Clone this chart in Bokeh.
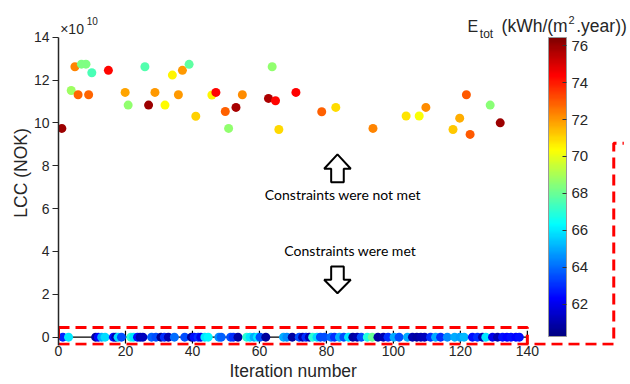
import numpy as np
from bokeh.plotting import figure
from bokeh.models import (LinearColorMapper, ColorBar, FixedTicker, Label, Range1d, ColumnDataSource, Title)
from bokeh.transform import linear_cmap
from bokeh.embed import file_html
from bokeh.resources import INLINE

# ---------------- data (LCC in units of 1e10 NOK) ----------------
top_iter = [1.0, 3.8, 4.9, 5.85, 6.85, 8.2, 9.0, 9.95, 14.9, 19.9,
            20.8, 25.8, 26.9, 28.8, 31.8, 34.0, 37.0, 35.8, 39.0, 41.0,
            45.8, 47.0, 49.8, 50.8, 53.0, 54.9, 62.7, 63.8, 64.8, 65.8,
            70.9, 78.6, 82.8, 93.9, 103.8, 107.7, 109.7, 117.8, 119.8, 121.8,
            122.9, 128.9, 131.9]
top_lcc = [9.74, 11.51, 12.62, 11.31, 12.74, 12.74, 11.31, 12.34, 12.45, 11.42,
           10.83, 12.62, 10.83, 11.42, 10.83, 12.23, 12.45, 11.31, 12.73, 10.31,
           11.30, 11.42, 10.53, 9.74, 10.72, 11.31, 11.14, 12.62, 11.03, 9.69,
           11.42, 10.52, 10.72, 9.74, 10.32, 10.32, 10.72, 9.69, 10.22, 11.31,
           9.46, 10.83, 10.0]
top_etot = [76.0, 68.8, 72.3, 72.8, 68.3, 68.3, 72.8, 67.5, 74.3, 71.8,
            68.6, 67.6, 76.0, 72.0, 70.4, 70.5, 72.0, 72.0, 67.8, 71.1,
            70.5, 74.3, 72.9, 68.6, 75.8, 72.2, 75.7, 68.6, 74.3, 71.0,
            74.4, 72.9, 70.9, 72.3, 70.8, 70.3, 72.2, 71.2, 71.7, 73.0,
            73.0, 68.5, 76.0]

bot_iter = [1.3, 3.0, 11.1, 11.9, 12.9, 13.9, 16.4, 17.1, 17.8, 18.8,
            21.6, 22.4, 23.6, 24.4, 25.2, 27.8, 29.1, 30.6, 31.6, 32.8,
            34.6, 37.7, 39.7, 40.5, 41.7, 42.5, 43.7, 44.7, 47.9, 48.6,
            51.4, 52.2, 53.6, 56.2, 57.2, 58.4, 59.4, 60.2, 61.9, 67.2,
            68.2, 69.8, 71.9, 72.9, 73.9, 74.9, 75.9, 77.2, 78.2, 79.4,
            81.4, 82.4, 83.9, 85.2, 86.6, 87.9, 89.2, 90.4, 92.2, 93.7,
            95.4, 97.0, 98.4, 100.2, 101.7, 104.2, 105.7, 107.0, 108.2, 109.3,
            111.1, 112.6, 114.1, 116.1, 118.3, 119.9, 121.1, 123.6, 125.1, 126.6,
            127.6, 129.6, 131.1, 132.6, 133.9, 135.1, 136.6, 137.6]
bot_etot = [62.8, 66.0, 60.8, 62.3, 65.0, 65.8, 62.5, 61.0, 65.8, 63.5,
            67.0, 66.0, 62.5, 61.0, 61.2, 63.8, 63.5, 60.6, 63.0, 61.0,
            64.0, 63.5, 60.7, 62.5, 63.0, 62.0, 66.0, 66.2, 64.5, 63.8,
            63.5, 63.0, 60.8, 67.0, 66.0, 65.0, 66.0, 63.5, 60.7, 65.0,
            64.5, 60.8, 63.5, 61.0, 63.0, 61.0, 67.0, 65.8, 63.5, 63.5,
            64.0, 63.0, 65.0, 63.5, 66.0, 60.8, 61.0, 63.5, 66.8, 68.0,
            60.8, 61.0, 63.0, 65.0, 63.5, 65.0, 61.0, 60.8, 61.0, 61.2,
            63.0, 65.0, 63.0, 64.5, 65.0, 64.8, 65.2, 62.5, 63.0, 61.0,
            66.0, 62.0, 61.0, 62.5, 62.3, 62.5, 62.3, 62.5]
bot_lcc = [0.0] * len(bot_iter)

x_ticks = [0, 20, 40, 60, 80, 100, 120, 140]
y_ticks = [0, 2, 4, 6, 8, 10, 12, 14]
cb_ticks = [62, 64, 66, 68, 70, 72, 74, 76]
E_LOW, E_HIGH = 60.24, 76.45

# ---------------- jet palette ----------------
t = np.linspace(0, 1, 256)
r = np.clip(1.5 - np.abs(4 * t - 3), 0, 1)
g = np.clip(1.5 - np.abs(4 * t - 2), 0, 1)
b = np.clip(1.5 - np.abs(4 * t - 1), 0, 1)
JET = ["#%02x%02x%02x" % (int(round(a * 255)), int(round(c * 255)), int(round(d * 255)))
       for a, c, d in zip(r, g, b)]

FONT = "Liberation Sans"
TXT = "#262626"

p = figure(width=630, height=384, output_backend="svg", toolbar_location=None,
           x_range=Range1d(0, 170.8), y_range=Range1d(-0.39, 15.71),
           min_border_left=58, min_border_right=0, min_border_top=0, min_border_bottom=39)
p.title.visible = False
p.outline_line_color = None
p.xgrid.visible = False
p.ygrid.visible = False
p.background_fill_color = "white"

# axes
xa = p.xaxis[0]
xa.ticker = FixedTicker(ticks=x_ticks)
xa.axis_line_color = None
xa.major_tick_line_color = None
xa.minor_tick_line_color = None
xa.major_tick_out = 0
xa.major_tick_in = 0
xa.major_label_standoff = 0
xa.major_label_text_font = FONT
xa.major_label_text_font_size = "14px"
xa.major_label_text_color = TXT

# x-axis title (placed under the 0-140 span, left part of the frame)
p.add_layout(Title(text="Iteration number", align="left", offset=171, standoff=0,
                   text_font=FONT, text_font_size="17.5px", text_font_style="normal",
                   text_color=TXT), "below")

ya = p.yaxis[0]
ya.ticker = FixedTicker(ticks=y_ticks)
ya.bounds = (-0.38, 14)
ya.axis_line_color = TXT
ya.axis_line_width = 1.5
ya.major_tick_line_color = TXT
ya.major_tick_line_width = 1.2
ya.major_tick_out = 6
ya.major_tick_in = 0
ya.minor_tick_line_color = None
ya.major_label_standoff = 3
ya.major_label_text_font = FONT
ya.major_label_text_font_size = "14px"
ya.major_label_text_color = TXT
ya.axis_label = "LCC (NOK)"
ya.axis_label_text_font = FONT
ya.axis_label_text_font_size = "17.5px"
ya.axis_label_text_font_style = "normal"
ya.axis_label_text_color = TXT
ya.axis_label_standoff = 0

# zero line with ticks
p.line(x=[x_ticks[0], x_ticks[-1]], y=[0, 0], line_color="black", line_width=1.2)
p.segment(x0=x_ticks, x1=x_ticks, y0=[-0.3] * len(x_ticks), y1=[0.3] * len(x_ticks),
          line_color="black", line_width=1.2)

cmap = linear_cmap("e", JET, E_LOW, E_HIGH)
src_bot = ColumnDataSource(dict(x=bot_iter, y=bot_lcc, e=bot_etot))
src_top = ColumnDataSource(dict(x=top_iter, y=top_lcc, e=top_etot))
p.scatter("x", "y", source=src_bot, size=9, fill_color=cmap, line_color=None)
p.scatter("x", "y", source=src_top, size=9, fill_color=cmap, line_color=None)

# red dashed highlight box + bracket
BOX_X0, BOX_X1, BOX_TOP, BOX_BOT = 0, 140, 0.45, -0.33
BR_X, BR_TOP, BR_STUB = 165.8, 9.05, 168.8
red = dict(line_color="#ff0000", line_width=3, line_dash="11 6")
p.line(x=[BOX_X0, BOX_X1, BOX_X1], y=[BOX_TOP, BOX_TOP, BOX_BOT], **red)
p.line(x=[BOX_X0, BOX_X0], y=[BOX_TOP, BOX_BOT], **red)
p.line(x=[BOX_X0, BR_X, BR_X, BR_STUB], y=[BOX_BOT, BOX_BOT, BR_TOP, BR_TOP], **red)

# hollow block arrows (annotation shapes)
AX, HEAD_HW, SHAFT_HW = 83.3, 3.97, 1.88
UP_TIP, UP_BASE, UP_END = 8.53, 7.86, 7.23
DN_TOP, DN_BASE, DN_TIP = 3.30, 2.68, 2.05
arrow_style = dict(fill_color="white", line_color="black", line_width=2)
p.patch(x=[AX, AX + HEAD_HW, AX + SHAFT_HW, AX + SHAFT_HW, AX - SHAFT_HW, AX - SHAFT_HW, AX - HEAD_HW],
        y=[UP_TIP, UP_BASE, UP_BASE, UP_END, UP_END, UP_BASE, UP_BASE], **arrow_style)
p.patch(x=[AX, AX + HEAD_HW, AX + SHAFT_HW, AX + SHAFT_HW, AX - SHAFT_HW, AX - SHAFT_HW, AX - HEAD_HW],
        y=[DN_TIP, DN_BASE, DN_BASE, DN_TOP, DN_TOP, DN_BASE, DN_BASE], **arrow_style)

# colour bar
mapper = LinearColorMapper(palette=JET, low=E_LOW, high=E_HIGH)
cb = ColorBar(color_mapper=mapper, ticker=FixedTicker(ticks=cb_ticks), location=(490, 9),
              width=18, height=299, padding=0, label_standoff=5,
              major_label_text_font=FONT, major_label_text_font_size="15px",
              major_label_text_color=TXT, major_tick_line_color="#333333",
              major_tick_in=4, major_tick_out=0, minor_tick_line_color=None,
              bar_line_color="#999999", border_line_color=None, background_fill_alpha=0)
p.add_layout(cb, "center")

def lab(x, y, text, size, font=FONT, align="left", baseline="alphabetic", color=TXT):
    p.add_layout(Label(x=x, y=y, text=text, text_font=font, text_font_size=size,
                       text_align=align, text_baseline=baseline, text_color=color))

# exponent
lab(0.5, 14.4, "×10", "14px", baseline="middle")
lab(8.4, 14.75, "10", "10px", baseline="middle")
# colour-bar title
lab(122.1, 14.50, "E", "16px")
lab(125.8, 14.17, "tot", "12px")
lab(132.3, 14.50, "(kWh/(m", "17.5px")
lab(152.3, 14.82, "2", "11px")
lab(154.6, 14.50, ".year))", "17.5px")
# annotations
lab(84.9, 6.66, "Constraints were not met", "14px", font="Lato", align="center", baseline="middle", color="black")
lab(87.1, 4.05, "Constraints were met", "14px", font="Lato", align="center", baseline="middle", color="black")

open("out.html", "w").write(file_html(p, INLINE))
